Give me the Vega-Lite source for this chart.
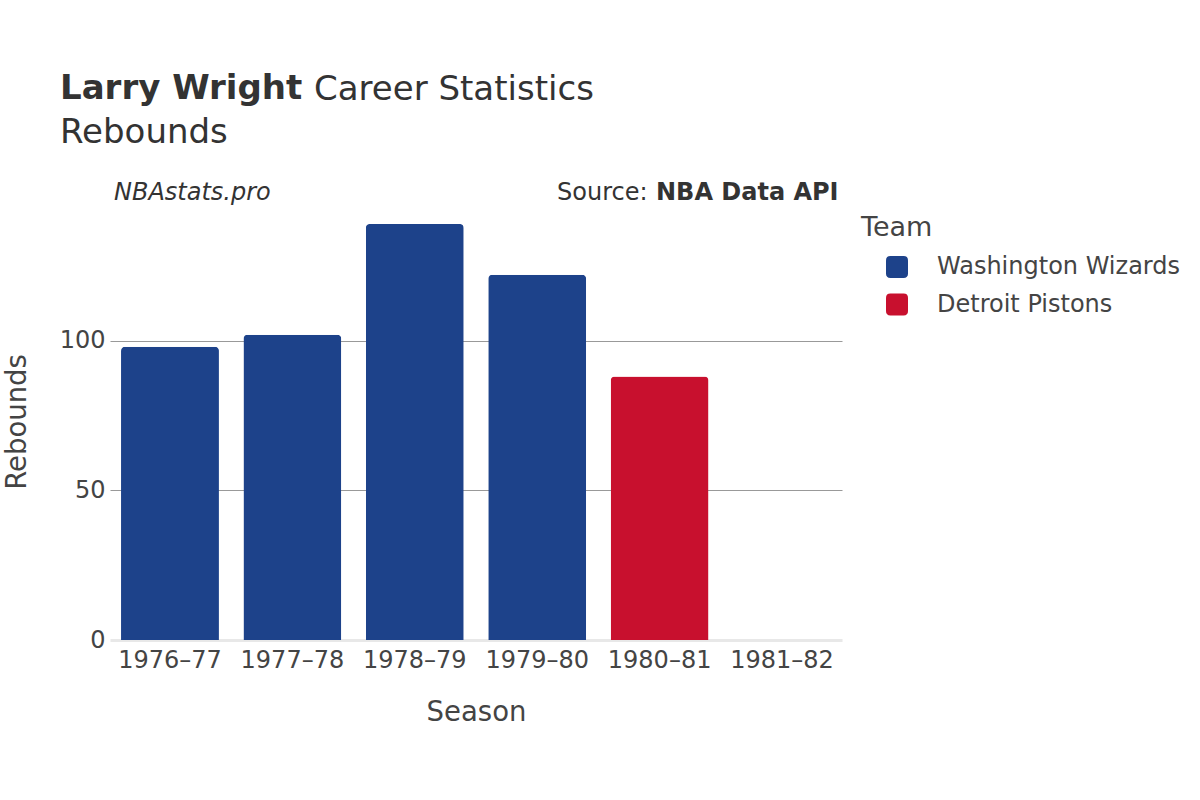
{
  "$schema": "https://vega.github.io/schema/vega-lite/v6.json",
  "width": 732,
  "height": 437,
  "autosize": {"type": "none"},
  "padding": {"left": 110, "top": 203, "right": 358, "bottom": 160},
  "background": "white",
  "datasets": {
    "stats": [
      {"Season": "1976–77", "Team": "Washington Wizards", "Rebounds": 98},
      {"Season": "1977–78", "Team": "Washington Wizards", "Rebounds": 102},
      {"Season": "1978–79", "Team": "Washington Wizards", "Rebounds": 139},
      {"Season": "1979–80", "Team": "Washington Wizards", "Rebounds": 122},
      {"Season": "1980–81", "Team": "Detroit Pistons", "Rebounds": 88},
      {"Season": "1981–82", "Team": "Detroit Pistons", "Rebounds": 0}
    ],
    "notes": [
      {"heading": "Career Statistics", "site": "NBAstats.pro", "sourcePrefix": "Source:", "source": "NBA Data API"}
    ]
  },
  "title": {
    "text": "Larry Wright",
    "subtitle": "Rebounds",
    "anchor": "start",
    "frame": "group",
    "dx": -50,
    "offset": -77,
    "font": "DejaVu Sans",
    "fontSize": 34,
    "fontWeight": "bold",
    "color": "#333333",
    "subtitleFont": "DejaVu Sans",
    "subtitleFontSize": 34,
    "subtitleColor": "#333333",
    "subtitlePadding": 10
  },
  "layer": [
    {
      "data": {"name": "stats"},
      "mark": {"type": "bar", "cornerRadiusTopLeft": 4, "cornerRadiusTopRight": 4},
      "encoding": {
        "x": {
          "field": "Season",
          "type": "nominal",
          "sort": null,
          "scale": {"paddingInner": 0.2, "paddingOuter": 0.09},
          "axis": {
            "title": "Season",
            "labelAngle": 0,
            "ticks": false,
            "tickSize": 0,
            "labelPadding": 8,
            "labelFontSize": 24,
            "labelColor": "#444444",
            "titleFontSize": 27.5,
            "titleFontWeight": "normal",
            "titleColor": "#444444",
            "titlePadding": 26,
            "domainColor": "#e8e8e8",
            "domainWidth": 3,
            "grid": false
          }
        },
        "y": {
          "field": "Rebounds",
          "type": "quantitative",
          "scale": {"domain": [0, 146], "nice": false},
          "axis": {
            "title": "Rebounds",
            "values": [0, 50, 100],
            "ticks": false,
            "tickSize": 0,
            "domain": false,
            "labelPadding": 5,
            "labelFontSize": 24,
            "labelColor": "#444444",
            "titleFontSize": 27.5,
            "titleFontWeight": "normal",
            "titleColor": "#444444",
            "titlePadding": 28,
            "grid": true,
            "gridColor": {"condition": {"test": "datum.value === 0", "value": "transparent"}, "value": "#999999"},
            "gridWidth": 1
          }
        },
        "color": {
          "field": "Team",
          "type": "nominal",
          "scale": {"domain": ["Washington Wizards", "Detroit Pistons"], "range": ["#1D428A", "#C8102E"]},
          "legend": {
            "title": "Team",
            "orient": "none",
            "legendX": 751,
            "legendY": 12,
            "padding": 0,
            "titleFontSize": 27,
            "titleFontWeight": "normal",
            "titleColor": "#444444",
            "titlePadding": 13,
            "labelFontSize": 24,
            "labelColor": "#444444",
            "labelLimit": 1000,
            "labelOffset": 28,
            "symbolOffset": 24,
            "symbolSize": 484,
            "symbolType": "M -0.6 -1 H 0.6 Q 1 -1 1 -0.6 V 0.6 Q 1 1 0.6 1 H -0.6 Q -1 1 -1 0.6 V -0.6 Q -1 -1 -0.6 -1 Z",
            "symbolStrokeWidth": 0,
            "symbolOpacity": 1,
            "rowPadding": 13.5
          }
        }
      }
    },
    {
      "data": {"name": "notes"},
      "mark": {"type": "point", "opacity": 0},
      "encoding": {
        "shape": {
          "field": "heading",
          "type": "nominal",
          "legend": {
            "title": null, "orient": "none", "legendX": 170, "legendY": -129.75, "padding": 0,
            "labelFont": "DejaVu Sans", "labelFontSize": 34, "labelColor": "#333333", "labelLimit": 1000,
            "labelOffset": 0, "symbolSize": 0, "symbolOpacity": 0, "symbolStrokeWidth": 0
          }
        }
      }
    },
    {
      "data": {"name": "notes"},
      "mark": {"type": "point", "opacity": 0},
      "encoding": {
        "shape": {
          "field": "site",
          "type": "nominal",
          "legend": {
            "title": null, "orient": "none", "legendX": -20, "legendY": -22, "padding": 0,
            "labelFont": "DejaVu Sans", "labelFontSize": 24, "labelFontStyle": "italic", "labelColor": "#333333", "labelLimit": 1000,
            "labelOffset": 0, "symbolSize": 0, "symbolOpacity": 0, "symbolStrokeWidth": 0
          }
        }
      }
    },
    {
      "data": {"name": "notes"},
      "mark": {"type": "point", "opacity": 0},
      "encoding": {
        "shape": {
          "field": "sourcePrefix",
          "type": "nominal",
          "legend": {
            "title": null, "orient": "none", "legendX": 423, "legendY": -22, "padding": 0,
            "labelFont": "DejaVu Sans", "labelFontSize": 24, "labelColor": "#333333", "labelLimit": 1000,
            "labelOffset": 0, "symbolSize": 0, "symbolOpacity": 0, "symbolStrokeWidth": 0
          }
        }
      }
    },
    {
      "data": {"name": "notes"},
      "mark": {"type": "point", "opacity": 0},
      "encoding": {
        "shape": {
          "field": "source",
          "type": "nominal",
          "legend": {
            "title": null, "orient": "none", "legendX": 522, "legendY": -22, "padding": 0,
            "labelFont": "DejaVu Sans", "labelFontSize": 24, "labelFontWeight": "bold", "labelColor": "#333333", "labelLimit": 1000,
            "labelOffset": 0, "symbolSize": 0, "symbolOpacity": 0, "symbolStrokeWidth": 0
          }
        }
      }
    }
  ],
  "resolve": {"scale": {"shape": "independent"}, "legend": {"shape": "independent"}},
  "config": {
    "font": "DejaVu Sans",
    "view": {"stroke": null}
  }
}
